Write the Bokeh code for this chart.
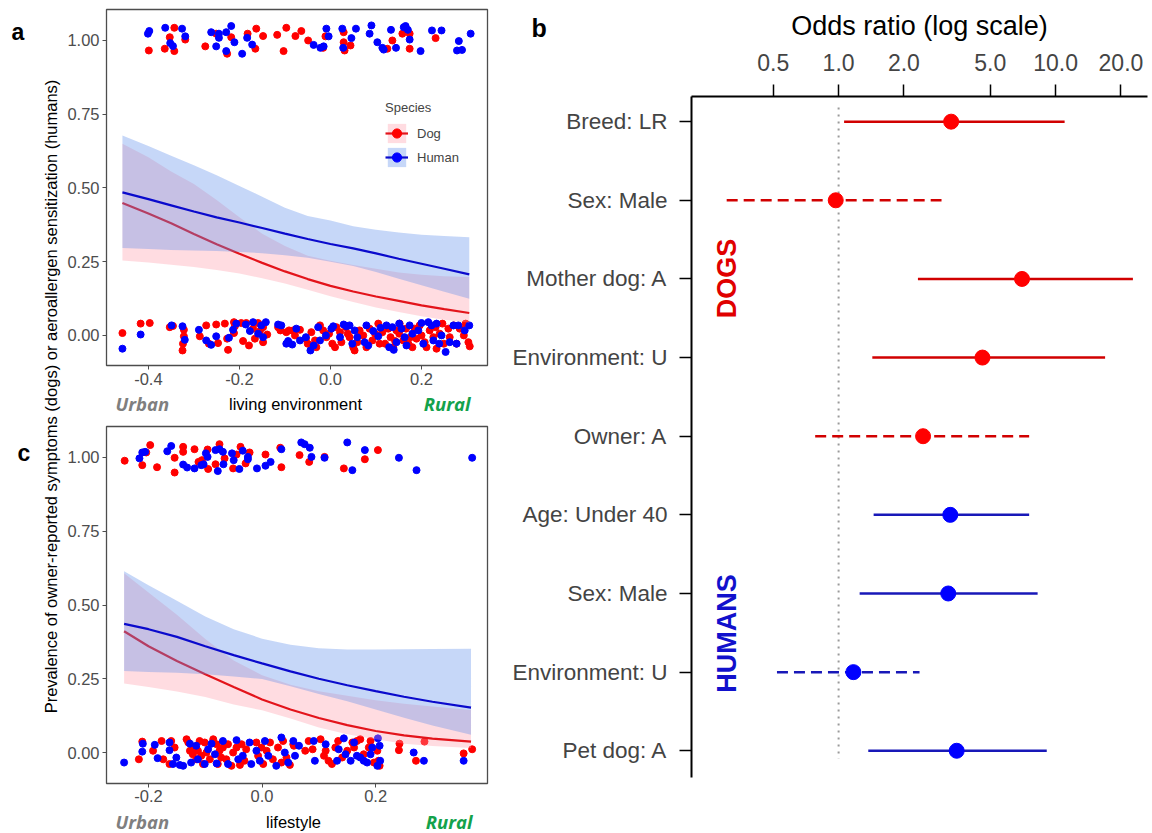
import math
from bokeh.plotting import figure
from bokeh.models import (Range1d, FixedTicker, NumeralTickFormatter, Label, Legend,
                          LegendItem, ColumnDataSource)
from bokeh.layouts import row, column
from bokeh.embed import file_html
from bokeh.resources import INLINE

FONT = "Liberation Sans"

# ---------------- Panel a : living environment ----------------
env_x = [-0.457, -0.4, -0.35, -0.3, -0.25, -0.2, -0.15, -0.1, -0.05, 0.0, 0.05, 0.1, 0.15, 0.2, 0.25, 0.305]
env_dog_fit = [0.449, 0.413, 0.380, 0.344, 0.309, 0.277, 0.246, 0.217, 0.191, 0.168, 0.149, 0.132, 0.117, 0.102, 0.089, 0.076]
env_dog_lo = [0.254, 0.247, 0.240, 0.232, 0.222, 0.210, 0.194, 0.176, 0.155, 0.133, 0.113, 0.095, 0.079, 0.065, 0.053, 0.043]
env_dog_hi = [0.650, 0.604, 0.556, 0.513, 0.459, 0.401, 0.345, 0.303, 0.270, 0.253, 0.239, 0.226, 0.213, 0.206, 0.201, 0.198]
env_hum_fit = [0.485, 0.462, 0.441, 0.420, 0.400, 0.383, 0.364, 0.345, 0.327, 0.310, 0.295, 0.278, 0.260, 0.243, 0.226, 0.207]
env_hum_lo = [0.296, 0.293, 0.290, 0.288, 0.286, 0.283, 0.279, 0.272, 0.263, 0.250, 0.235, 0.215, 0.192, 0.170, 0.148, 0.124]
env_hum_hi = [0.678, 0.642, 0.609, 0.577, 0.543, 0.507, 0.470, 0.433, 0.405, 0.390, 0.370, 0.358, 0.349, 0.341, 0.337, 0.333]

env_dog_pts_x = [-0.399, -0.364, -0.353, -0.343, -0.343, -0.319, -0.275, -0.251, -0.227, -0.218, -0.182, -0.165, -0.163, -0.148, -0.117, -0.103, -0.097, -0.077, -0.064, -0.049, -0.016, -0.011, 0.029, 0.029, 0.044, 0.031, 0.125, 0.136, 0.158, 0.174, 0.174, 0.231,
                 -0.457, -0.417, -0.397, -0.353, -0.346, -0.322, -0.322, -0.324, -0.325, -0.287, -0.273, -0.267, -0.251, -0.247, -0.232, -0.227, -0.225, -0.212, -0.212, -0.210, -0.196, -0.192, -0.185, -0.179, -0.170, -0.166, -0.159, -0.155, -0.148, -0.139, -0.148, -0.115, -0.110, -0.097, -0.091, -0.082, -0.078, -0.067, -0.054, -0.050, -0.042, -0.034, -0.031, -0.023, -0.016, -0.009, -0.003, 0.004, 0.010, 0.013, 0.021, 0.024, 0.034, 0.038, 0.042, 0.050, 0.053, 0.059, 0.064, 0.072, 0.079, 0.086, 0.092, 0.098, 0.105, 0.108, 0.114, 0.120, 0.127, 0.132, 0.138, 0.142, 0.145, 0.151, 0.152, 0.160, 0.166, 0.171, 0.176, 0.180, 0.185, 0.189, 0.196, 0.200, 0.207, 0.211, 0.218, 0.226, 0.231, 0.233, 0.240, 0.246, 0.249, 0.259, 0.262, 0.271, 0.277, 0.284, 0.293, 0.297, 0.303, 0.306]
env_dog_pts_y = [0.966, 0.972, 1.011, 1.043, 0.964, 1.003, 0.980, 1.023, 0.955, 1.011, 1.023, 0.972, 1.040, 1.015, 1.019, 0.964, 1.043, 1.015, 1.032, 1.000, 0.975, 1.014, 1.028, 0.994, 0.983, 0.966, 0.972, 1.000, 1.023, 1.023, 0.972, 1.008,
                 0.008, 0.040, 0.042, 0.028, 0.032, 0.019, -0.003, -0.028, -0.051, -0.003, 0.034, -0.028, 0.037, -0.026, 0.040, -0.011, -0.049, 0.045, 0.008, 0.031, 0.042, -0.019, 0.042, -0.034, 0.023, -0.011, 0.042, 0.015, -0.023, 0.003, 0.028, 0.028, 0.017, 0.011, 0.017, 0.017, 0.000, 0.019, -0.011, -0.028, 0.011, -0.017, -0.040, 0.034, 0.017, -0.006, 0.006, -0.028, -0.040, 0.028, 0.011, -0.023, 0.028, 0.006, -0.006, -0.040, -0.051, -0.023, 0.017, 0.000, -0.040, 0.023, -0.017, 0.006, 0.040, -0.028, 0.011, -0.028, 0.023, -0.006, -0.040, -0.019, 0.017, 0.006, 0.040, -0.017, 0.023, -0.028, -0.006, -0.040, 0.023, -0.011, 0.034, 0.000, -0.023, -0.040, 0.017, -0.006, 0.028, -0.045, 0.006, 0.040, -0.028, 0.023, -0.006, 0.034, -0.028, 0.023, 0.000, 0.040, -0.023, -0.037]
env_hum_pts_x = [-0.401, -0.398, -0.363, -0.352, -0.346, -0.326, -0.319, -0.262, -0.251, -0.245, -0.245, -0.229, -0.229, -0.218, -0.211, -0.194, -0.183, -0.172, -0.037, -0.022, -0.015, -0.009, -0.004, 0.026, 0.028, 0.046, 0.056, 0.086, 0.090, 0.103, 0.114, 0.117, 0.133, 0.144, 0.161, 0.165, 0.170, 0.174, 0.198, 0.223, 0.244, 0.278, 0.282, 0.289, 0.308,
                 -0.457, -0.417, -0.349, -0.325, -0.320, -0.289, -0.273, -0.262, -0.251, -0.223, -0.214, -0.207, -0.186, -0.177, -0.170, -0.159, -0.152, -0.142, -0.148, -0.115, -0.108, -0.097, -0.093, -0.084, -0.075, -0.067, -0.054, -0.044, -0.037, -0.027, -0.023, -0.010, 0.002, 0.006, 0.021, 0.029, 0.035, 0.042, 0.048, 0.053, 0.059, 0.075, 0.079, 0.083, 0.094, 0.105, 0.110, 0.123, 0.129, 0.136, 0.139, 0.145, 0.151, 0.156, 0.163, 0.167, 0.174, 0.180, 0.193, 0.200, 0.204, 0.215, 0.222, 0.226, 0.233, 0.239, 0.244, 0.253, 0.262, 0.270, 0.277, 0.281, 0.295, 0.305]
env_hum_pts_y = [1.023, 1.032, 1.043, 0.991, 0.981, 1.040, 1.014, 1.028, 0.980, 1.023, 1.009, 1.028, 0.964, 1.049, 0.994, 0.955, 1.009, 0.986, 0.985, 0.975, 0.980, 1.040, 1.014, 1.040, 0.975, 1.008, 1.040, 1.023, 1.051, 0.994, 0.975, 0.969, 1.036, 0.975, 1.045, 1.049, 1.036, 1.003, 0.964, 1.034, 1.034, 0.966, 0.998, 0.968, 1.023,
                 -0.045, 0.003, 0.034, 0.031, -0.015, 0.019, -0.017, -0.032, -0.003, -0.008, 0.019, 0.040, 0.037, 0.015, 0.045, 0.006, 0.034, 0.045, -0.006, 0.037, 0.034, -0.028, -0.019, -0.031, 0.023, -0.017, -0.006, -0.051, -0.034, 0.028, -0.017, 0.000, 0.023, 0.031, -0.006, 0.037, 0.031, 0.034, -0.028, 0.017, -0.006, -0.023, 0.034, -0.034, 0.015, -0.003, 0.026, 0.034, -0.040, 0.028, -0.049, -0.023, 0.040, 0.023, -0.006, -0.034, 0.034, 0.006, 0.017, 0.042, -0.028, 0.045, 0.034, -0.017, 0.040, -0.028, 0.000, -0.056, -0.023, 0.034, -0.028, 0.034, 0.017, 0.034]

# ---------------- Panel c : lifestyle ----------------
life_x = [-0.243, -0.2, -0.15, -0.1, -0.05, 0.0, 0.05, 0.1, 0.15, 0.2, 0.25, 0.3, 0.368]
life_dog_fit = [0.411, 0.360, 0.310, 0.265, 0.222, 0.180, 0.146, 0.117, 0.093, 0.073, 0.058, 0.047, 0.037]
life_dog_lo = [0.234, 0.222, 0.207, 0.188, 0.163, 0.143, 0.115, 0.085, 0.062, 0.045, 0.030, 0.022, 0.015]
life_dog_hi = [0.608, 0.542, 0.467, 0.385, 0.312, 0.262, 0.230, 0.208, 0.192, 0.177, 0.165, 0.156, 0.144]
life_hum_fit = [0.436, 0.418, 0.392, 0.360, 0.330, 0.302, 0.275, 0.250, 0.228, 0.208, 0.189, 0.172, 0.152]
life_hum_lo = [0.276, 0.273, 0.270, 0.265, 0.258, 0.249, 0.225, 0.198, 0.174, 0.146, 0.118, 0.092, 0.060]
life_hum_hi = [0.614, 0.567, 0.514, 0.461, 0.418, 0.386, 0.365, 0.353, 0.349, 0.349, 0.350, 0.351, 0.352]

life_dog_pts_x = [-0.242, -0.211, -0.204, -0.197, -0.185, -0.154, -0.154, -0.139, -0.139, -0.119, -0.112, -0.106, -0.096, -0.095, -0.082, -0.075, -0.066, -0.051, -0.045, -0.038, -0.029, -0.022, 0.006, 0.032, 0.034, 0.066, 0.083, 0.110, 0.144, 0.181, 0.204,
                  -0.217, -0.211, -0.192, -0.177, -0.174, -0.163, -0.160, -0.154, -0.133, -0.130, -0.127, -0.122, -0.119, -0.116, -0.113, -0.110, -0.107, -0.104, -0.101, -0.098, -0.092, -0.086, -0.080, -0.078, -0.075, -0.072, -0.069, -0.063, -0.060, -0.054, -0.051, -0.045, -0.039, -0.036, -0.031, -0.028, -0.010, -0.007, -0.001, 0.002, 0.008, 0.014, 0.019, 0.028, 0.034, 0.037, 0.043, 0.049, 0.055,
                  0.056, 0.076, 0.082, 0.089, 0.103, 0.109, 0.112, 0.117, 0.123, 0.129, 0.134, 0.141, 0.150, 0.159, 0.162, 0.167, 0.173, 0.179, 0.188, 0.191, 0.197, 0.203, 0.205, 0.207, 0.241, 0.242, 0.271, 0.286, 0.355, 0.370]
life_dog_pts_y = [0.989, 0.974, 1.017, 1.042, 0.967, 0.999, 0.949, 1.036, 1.019, 1.028, 0.985, 0.991, 1.027, 0.961, 0.977, 1.045, 0.997, 0.963, 1.010, 1.036, 0.980, 1.017, 1.010, 1.033, 0.967, 1.008, 0.985, 1.002, 0.963, 0.994, 1.025,
                  -0.023, 0.037, 0.006, 0.039, -0.023, -0.039, 0.039, 0.017, 0.045, 0.034, 0.006, -0.006, 0.017, -0.023, 0.006, 0.039, -0.011, -0.039, 0.034, 0.000, -0.023, 0.045, 0.028, -0.039, 0.006, -0.017, 0.017, -0.023, 0.028, -0.045, 0.000, 0.017, -0.042, 0.028, -0.028, 0.011, 0.034, -0.011, 0.017, -0.039, 0.006, 0.034, -0.023, 0.017, -0.034, 0.039, -0.017, -0.042, 0.028,
                  0.023, 0.006, 0.039, 0.011, 0.045, -0.011, 0.006, -0.028, -0.039, 0.017, 0.039, -0.017, 0.006, 0.034, 0.017, 0.039, 0.045, -0.006, 0.017, 0.039, -0.034, 0.006, -0.028, -0.045, 0.008, 0.030, -0.028, 0.037, -0.003, 0.011]
life_hum_pts_x = [-0.216, -0.211, -0.206, -0.167, -0.160, -0.139, -0.132, -0.119, -0.107, -0.103, -0.099, -0.096, -0.082, -0.078, -0.075, -0.068, -0.069, -0.053, -0.050, -0.040, -0.034, -0.025, -0.025, -0.009, 0.006, 0.015, 0.034, 0.069, 0.075, 0.084, 0.087, 0.110, 0.150, 0.159, 0.181, 0.241, 0.272, 0.370,
                  -0.243, -0.211, -0.210, -0.189, -0.184, -0.163, -0.163, -0.157, -0.151, -0.145, -0.139, -0.127, -0.125, -0.116, -0.113, -0.101, -0.095, -0.089, -0.083, -0.080, -0.069, -0.060, -0.045, -0.042, -0.034, -0.022, -0.019, -0.010, -0.004, 0.005, 0.011, 0.025, 0.034, 0.040, 0.046, 0.055, 0.058,
                  0.065, 0.091, 0.093, 0.112, 0.132, 0.135, 0.144, 0.147, 0.156, 0.162, 0.167, 0.173, 0.179, 0.185, 0.191, 0.194, 0.203, 0.204, 0.207, 0.208, 0.267, 0.285, 0.355]
life_hum_pts_y = [0.997, 1.017, 1.019, 1.021, 1.039, 0.976, 0.966, 0.963, 0.974, 0.977, 1.014, 1.002, 1.025, 0.954, 1.028, 0.977, 1.019, 1.014, 0.991, 0.961, 1.023, 1.002, 0.994, 0.963, 0.972, 0.985, 1.028, 1.051, 1.045, 1.033, 1.002, 0.999, 1.051, 0.957, 1.025, 0.999, 0.957, 0.999,
                  -0.034, 0.003, 0.030, 0.026, -0.019, 0.034, 0.008, -0.039, -0.017, -0.042, -0.045, 0.030, -0.034, 0.023, -0.023, -0.039, 0.011, 0.030, -0.006, -0.037, 0.039, -0.039, 0.042, -0.023, -0.011, 0.034, -0.039, 0.006, -0.028, 0.039, -0.011, -0.045, 0.051, 0.000, -0.034, 0.039, -0.011,
                  0.023, 0.039, -0.028, 0.028, -0.028, 0.011, 0.048, -0.006, -0.028, 0.034, -0.011, -0.017, -0.028, -0.034, -0.006, 0.017, -0.045, 0.048, 0.023, -0.028, 0.000, -0.028, -0.028]

prob_ticks = [0.0, 0.25, 0.5, 0.75, 1.0]
env_ticks = [-0.4, -0.2, 0.0, 0.2]
life_ticks = [-0.2, 0.0, 0.2]

# ---------------- Panel b : odds ratios ----------------
or_labels = ["Breed: LR", "Sex: Male", "Mother dog: A", "Environment: U", "Owner: A",
             "Age: Under 40", "Sex: Male", "Environment: U", "Pet dog: A"]
or_species = ["Dog", "Dog", "Dog", "Dog", "Dog", "Human", "Human", "Human", "Human"]
or_est = [3.3, 0.97, 7.0, 4.6, 2.45, 3.27, 3.2, 1.17, 3.5]
or_lo = [1.06, 0.305, 2.32, 1.43, 0.78, 1.45, 1.25, 0.52, 1.37]
or_hi = [11.0, 2.98, 22.7, 16.9, 7.55, 7.55, 8.26, 2.36, 9.1]
or_signif = [True, False, True, True, False, True, True, False, True]
or_ticks = [0.5, 1.0, 2.0, 5.0, 10.0, 20.0]
ref_or = 1.0

RED_PT, BLUE_PT = "#FF0000", "#0000FF"
RED_LN, BLUE_LN = "#E3141B", "#0A0ACC"
PINK_FILL, BLUE_FILL = "#FF9AA8", "#5B8DEB"
RIB_ALPHA = 0.35


def bare(width, height, **kw):
    f = figure(width=width, height=height, x_range=Range1d(0, 1), y_range=Range1d(0, 1),
               output_backend="svg", toolbar_location=None, x_axis_location=None,
               y_axis_location=None, title=None, **kw)
    f.grid.visible = False
    f.outline_line_color = None
    return f


def text(x, y, s, size, color="black", style="normal", font=FONT, align="left", angle=0.0):
    return Label(x=x, y=y, x_units="canvas", y_units="canvas", text=s, text_font=font,
                 text_font_size=size, text_font_style=style, text_color=color,
                 text_align=align, text_baseline="middle", angle=angle)


def style_panel(p, xticks, standoff):
    p.outline_line_color = "#4D4D4D"
    p.outline_line_width = 1.3
    p.grid.visible = False
    for ax in (p.xaxis[0], p.yaxis[0]):
        ax.axis_line_color = None
        ax.major_tick_line_color = "#4D4D4D"
        ax.major_tick_out = 4
        ax.major_tick_in = 0
        ax.minor_tick_line_color = None
        ax.major_label_text_font = FONT
        ax.major_label_text_font_size = "16.5px"
        ax.major_label_text_color = "#4D4D4D"
        ax.major_label_standoff = 3
    p.xaxis.major_label_standoff = standoff
    p.yaxis.ticker = FixedTicker(ticks=prob_ticks)
    p.yaxis.formatter = NumeralTickFormatter(format="0.00")
    p.xaxis.ticker = FixedTicker(ticks=xticks)
    p.xaxis.formatter = NumeralTickFormatter(format="0.0")


def build_panel(height, top, bottom, standoff, xr, yr, xticks, xs, dfit, dlo, dhi, hfit, hlo, hhi,
                dpx, dpy, hpx, hpy, with_legend):
    p = figure(width=438, height=height, x_range=Range1d(*xr), y_range=Range1d(*yr),
               output_backend="svg", toolbar_location=None, title=None,
               min_border_left=44, min_border_right=13, min_border_top=top, min_border_bottom=bottom)
    style_panel(p, xticks, standoff)
    dpts = p.scatter(dpx, dpy, size=7, fill_color=RED_PT, line_color=RED_PT)
    hpts = p.scatter(hpx, hpy, size=7, fill_color=BLUE_PT, line_color=BLUE_PT)
    drib = p.varea(x=xs, y1=dlo, y2=dhi, fill_color=PINK_FILL, fill_alpha=RIB_ALPHA)
    dline = p.line(xs, dfit, line_color=RED_LN, line_width=2.2)
    hrib = p.varea(x=xs, y1=hlo, y2=hhi, fill_color=BLUE_FILL, fill_alpha=RIB_ALPHA)
    hline = p.line(xs, hfit, line_color=BLUE_LN, line_width=2.2)
    if with_legend:
        leg = Legend(items=[LegendItem(label="Dog", renderers=[drib, dline, dpts]),
                            LegendItem(label="Human", renderers=[hrib, hline, hpts])],
                     location=(279, 196), title="Species")
        leg.title_text_font = FONT
        leg.title_text_font_size = "13px"
        leg.title_text_font_style = "normal"
        leg.title_standoff = 6
        leg.label_text_font = FONT
        leg.label_text_font_size = "13px"
        leg.glyph_width = 23
        leg.glyph_height = 24
        leg.label_height = 24
        leg.label_standoff = 9
        leg.spacing = 0
        leg.padding = 0
        leg.margin = 0
        leg.border_line_color = None
        leg.background_fill_alpha = 0
        p.add_layout(leg)
    return p


def axis_strip(height, mid, label, label_x, rural_right):
    s = bare(438, height, min_border_left=44, min_border_right=13, min_border_top=0,
             min_border_bottom=0)
    s.add_layout(text(53, mid, "Urban", "18.5px", "#7F7F7F", "bold italic", "Open Sans"))
    s.add_layout(text(label_x, mid, label, "16.5px", align="center"))
    s.add_layout(text(rural_right, mid, "Rural", "18.5px", "#13A24B", "bold italic", "Open Sans",
                      align="right"))
    return s


pa = build_panel(392, 9, 27, 3, (-0.492, 0.345), (-0.102, 1.105), env_ticks,
                 env_x, env_dog_fit, env_dog_lo, env_dog_hi, env_hum_fit, env_hum_lo, env_hum_hi,
                 env_dog_pts_x, env_dog_pts_y, env_hum_pts_x, env_hum_pts_y, True)
sa = axis_strip(28, 11, "living environment", 233, 408)
pc = build_panel(388, 6, 25, 2, (-0.274, 0.397), (-0.105, 1.105), life_ticks,
                 life_x, life_dog_fit, life_dog_lo, life_dog_hi, life_hum_fit, life_hum_lo, life_hum_hi,
                 life_dog_pts_x, life_dog_pts_y, life_hum_pts_x, life_hum_pts_y, False)
sc = axis_strip(25, 13, "lifestyle", 231, 410)

# ---------------- left strip with shared y label and panel letters ----------------
pl = bare(62, 833, min_border=0, frame_align=False)
pl.add_layout(text(50, 396, "Prevalence of owner-reported symptoms (dogs) or aeroallergen sensitization (humans)",
                   "16.5px", align="center", angle=math.pi / 2))
pl.add_layout(text(11, 31, "a", "23px", style="bold"))
pl.add_layout(text(17, 452, "c", "23px", style="bold"))

# ---------------- panel b ----------------
sb = bare(652, 43, min_border=0, frame_align=False)
sb.add_layout(text(31, 27, "b", "25px", style="bold"))
sb.add_layout(text(419, 25, "Odds ratio (log scale)", "27px", align="center"))

rows = list(range(1, len(or_labels) + 1))
pb = figure(width=652, height=790, x_axis_type="log", x_range=Range1d(0.21, 26.5),
            y_range=Range1d(9.34, 0.68), x_axis_location="above", title=None,
            output_backend="svg", toolbar_location=None, frame_align=False,
            min_border_left=191, min_border_right=5, min_border_top=53, min_border_bottom=56)
pb.outline_line_color = None
pb.grid.visible = False
xa = pb.xaxis[0]
xa.ticker = FixedTicker(ticks=or_ticks)
xa.formatter = NumeralTickFormatter(format="0.0")
xa.axis_line_width = 2
xa.axis_line_color = "black"
xa.major_tick_out = 12
xa.major_tick_in = 0
xa.major_tick_line_width = 1.5
xa.minor_tick_line_color = None
xa.major_label_text_font = FONT
xa.major_label_text_font_size = "23px"
xa.major_label_standoff = 14
ya = pb.yaxis[0]
ya.ticker = FixedTicker(ticks=rows)
ya.major_label_overrides = {r: lab for r, lab in zip(rows, or_labels)}
ya.axis_line_width = 2
ya.axis_line_color = "black"
ya.major_tick_out = 12
ya.major_tick_in = 0
ya.major_tick_line_width = 1.5
ya.minor_tick_line_color = None
ya.major_label_text_font = FONT
ya.major_label_text_font_size = "22.5px"
ya.major_label_standoff = 12

pb.segment(x0=[ref_or], y0=[0.82], x1=[ref_or], y1=[9.1], line_color="#9A9A9A", line_width=2,
           line_dash="2 5")

line_col = {"Dog": "#D10000", "Human": "#1818B8"}
pt_col = {"Dog": RED_PT, "Human": BLUE_PT}
for sig, dash in ((True, "solid"), (False, "11 6")):
    idx = [i for i in range(len(rows)) if or_signif[i] == sig]
    src = ColumnDataSource(dict(y=[rows[i] for i in idx], lo=[or_lo[i] for i in idx],
                                hi=[or_hi[i] for i in idx],
                                c=[line_col[or_species[i]] for i in idx]))
    pb.segment(x0="lo", y0="y", x1="hi", y1="y", source=src, line_color="c", line_width=2.5,
               line_dash=dash)
pb.scatter(or_est, rows, size=15, fill_color=[pt_col[s] for s in or_species],
           line_color=[pt_col[s] for s in or_species])

pb.add_layout(text(226, 235, "DOGS", "27px", "#E00000", "bold", align="center", angle=math.pi / 2))
pb.add_layout(text(226, 590, "HUMANS", "27px", "#1111CC", "bold", align="center", angle=math.pi / 2))

layout = row(pl, column(pa, sa, pc, sc), column(sb, pb))
open("out.html", "w").write(file_html(layout, INLINE))
